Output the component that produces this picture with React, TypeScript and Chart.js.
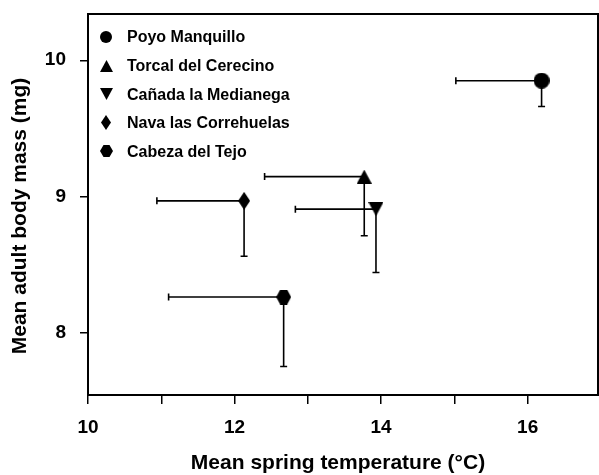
import React, { useEffect, useRef } from 'react';
import { Chart, registerables } from 'chart.js';

Chart.register(...registerables);

// ---- Data ----
const sites = [
  'Poyo Manquillo',
  'Torcal del Cerecino',
  'Cañada la Medianega',
  'Nava las Correhuelas',
  'Cabeza del Tejo',
];
const markerShapes = ['circle', 'triangle', 'triangleDown', 'diamond', 'hexagon'];
const temperature = [16.19, 13.77, 13.93, 12.13, 12.67];
const temperatureErr = [1.17, 1.36, 1.1, 1.19, 1.57];
const bodyMass = [9.85, 9.145, 8.906, 8.967, 8.26];
const bodyMassErr = [0.19, 0.435, 0.466, 0.407, 0.51];

const xTitle = 'Mean spring temperature (°C)';
const yTitle = 'Mean adult body mass (mg)';

const FONT = '"Liberation Sans", Arial, Helvetica, sans-serif';

function makeMarker(shape: string, w: number, h: number): HTMLCanvasElement {
  const c = document.createElement('canvas');
  c.width = w;
  c.height = h;
  const ctx = c.getContext('2d') as CanvasRenderingContext2D;
  ctx.fillStyle = '#000';
  ctx.beginPath();
  switch (shape) {
    case 'circle':
      ctx.arc(w / 2, h / 2, Math.min(w, h) / 2, 0, Math.PI * 2);
      break;
    case 'triangle':
      ctx.moveTo(w / 2, 0);
      ctx.lineTo(w, h);
      ctx.lineTo(0, h);
      break;
    case 'triangleDown':
      ctx.moveTo(0, 0);
      ctx.lineTo(w, 0);
      ctx.lineTo(w / 2, h);
      break;
    case 'diamond':
      ctx.moveTo(w / 2, 0);
      ctx.lineTo(w, h / 2);
      ctx.lineTo(w / 2, h);
      ctx.lineTo(0, h / 2);
      break;
    case 'hexagon':
      ctx.moveTo(0, h / 2);
      ctx.lineTo(w * 0.27, 0);
      ctx.lineTo(w * 0.73, 0);
      ctx.lineTo(w, h / 2);
      ctx.lineTo(w * 0.73, h);
      ctx.lineTo(w * 0.27, h);
      break;
  }
  ctx.closePath();
  ctx.fill();
  return c;
}

const plotSizes: Record<string, [number, number]> = {
  circle: [16, 16],
  triangle: [15, 14],
  triangleDown: [15, 14],
  diamond: [12, 18],
  hexagon: [15, 15],
};
const legendSizes: Record<string, [number, number]> = {
  circle: [12, 12],
  triangle: [13, 12],
  triangleDown: [13, 12],
  diamond: [10, 15],
  hexagon: [13, 12],
};

export default function App() {
  const canvasRef = useRef<HTMLCanvasElement | null>(null);

  useEffect(() => {
    document.body.style.margin = '0';
    const canvas = canvasRef.current;
    if (!canvas) return;

    const plotMarkers = markerShapes.map((s) => makeMarker(s, plotSizes[s][0], plotSizes[s][1]));
    const legendMarkers = markerShapes.map((s) => makeMarker(s, legendSizes[s][0], legendSizes[s][1]));

    const errorBarPlugin = {
      id: 'errorBars',
      beforeDatasetsDraw(chart: any) {
        const { ctx, scales } = chart;
        const xs = scales.x;
        const ys = scales.y;
        ctx.save();
        ctx.strokeStyle = '#000';
        ctx.lineWidth = 1.6;
        const cap = 3.5;
        for (let i = 0; i < sites.length; i++) {
          const px = xs.getPixelForValue(temperature[i]);
          const py = ys.getPixelForValue(bodyMass[i]);
          const pxl = xs.getPixelForValue(temperature[i] - temperatureErr[i]);
          const pyl = ys.getPixelForValue(bodyMass[i] - bodyMassErr[i]);
          ctx.beginPath();
          ctx.moveTo(px, py);
          ctx.lineTo(pxl, py);
          ctx.moveTo(pxl, py - cap);
          ctx.lineTo(pxl, py + cap);
          ctx.moveTo(px, py);
          ctx.lineTo(px, pyl);
          ctx.moveTo(px - cap, pyl);
          ctx.lineTo(px + cap, pyl);
          ctx.stroke();
        }
        ctx.restore();
      },
    };

    const framePlugin = {
      id: 'frameTitlesLegend',
      afterDraw(chart: any) {
        const { ctx, chartArea } = chart;
        ctx.save();
        // frame
        ctx.strokeStyle = '#000';
        ctx.lineWidth = 2;
        ctx.strokeRect(chartArea.left, chartArea.top, chartArea.right - chartArea.left, chartArea.bottom - chartArea.top);
        // axis titles
        ctx.fillStyle = '#000';
        ctx.font = `bold 21px ${FONT}`;
        ctx.textAlign = 'center';
        ctx.textBaseline = 'middle';
        ctx.fillText(xTitle, 338, 463);
        ctx.save();
        ctx.translate(20, 216);
        ctx.rotate(-Math.PI / 2);
        ctx.fillText(yTitle, 0, 0);
        ctx.restore();
        // legend
        ctx.font = `bold 16px ${FONT}`;
        ctx.textAlign = 'left';
        ctx.textBaseline = 'middle';
        const lx = chartArea.left + 18;
        const ly0 = chartArea.top + 23;
        const step = 28.6;
        for (let i = 0; i < sites.length; i++) {
          const y = ly0 + i * step;
          const img = legendMarkers[i];
          ctx.drawImage(img, Math.round(lx - img.width / 2), Math.round(y - img.height / 2));
          ctx.fillText(sites[i], chartArea.left + 39, y + 1);
        }
        ctx.restore();
      },
    };

    const chart = new Chart(canvas, {
      type: 'scatter',
      data: {
        datasets: sites.map((name, i) => ({
          label: name,
          data: [{ x: temperature[i], y: bodyMass[i] }],
          pointStyle: plotMarkers[i] as any,
          backgroundColor: '#000',
          borderColor: '#000',
        })),
      },
      options: {
        animation: false,
        responsive: false,
        devicePixelRatio: 1,
        layout: { autoPadding: false, padding: { top: 14, right: 1, left: 0, bottom: 0 } },
        plugins: {
          legend: { display: false },
          tooltip: { enabled: false },
        },
        scales: {
          x: {
            type: 'linear',
            min: 10,
            max: 16.96,
            afterFit(scale: any) {
              scale.height = 80;
              scale.paddingLeft = 0;
              scale.paddingRight = 0;
            },
            border: { display: true, color: '#000', width: 2 },
            grid: {
              display: true,
              drawOnChartArea: false,
              drawTicks: true,
              tickLength: 9,
              color: '#000',
              lineWidth: 1.5,
            },
            ticks: {
              stepSize: 1,
              includeBounds: false,
              autoSkip: false,
              maxRotation: 0,
              padding: 12,
              color: '#000',
              font: { family: FONT, size: 19, weight: 'bold' },
              callback: (v: any) => (Number(v) % 2 === 0 ? String(v) : ''),
            },
          },
          y: {
            type: 'linear',
            min: 7.54,
            max: 10.34,
            afterFit(scale: any) {
              scale.width = 88;
              scale.paddingTop = 0;
              scale.paddingBottom = 0;
            },
            border: { display: true, color: '#000', width: 2 },
            grid: {
              display: true,
              drawOnChartArea: false,
              drawTicks: true,
              tickLength: 8,
              color: '#000',
              lineWidth: 1.5,
            },
            ticks: {
              stepSize: 1,
              includeBounds: false,
              padding: 14,
              color: '#000',
              font: { family: FONT, size: 19, weight: 'bold' },
            },
          },
        },
      },
      plugins: [errorBarPlugin, framePlugin],
    });

    return () => {
      chart.destroy();
    };
  }, []);

  return <canvas ref={canvasRef} width={599} height={475} style={{ display: 'block' }} />;
}
